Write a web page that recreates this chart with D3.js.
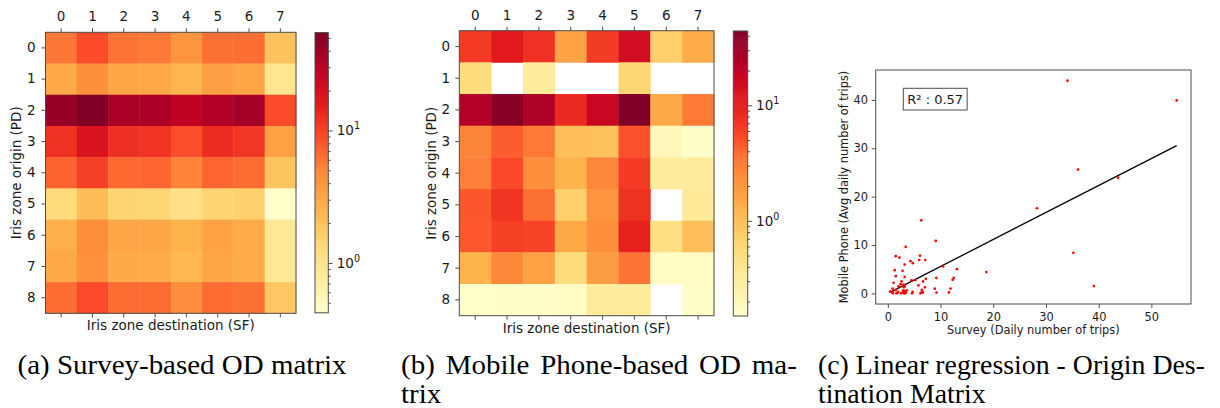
<!DOCTYPE html>
<html><head><meta charset="utf-8">
<script src="https://cdn.jsdelivr.net/npm/d3@7"></script>
<style>
body{margin:0;background:#fff}
svg{display:block}
</style>
</head><body>
<svg id="chart" width="1220" height="408"></svg>
<script>
// ---------------- data ----------------
const destZones = [0, 1, 2, 3, 4, 5, 6, 7];
const originZones = [0, 1, 2, 3, 4, 5, 6, 7, 8];

// Survey-based OD matrix (rows = origin PD, cols = destination SF)
const surveyOD = [
  [5.95, 9.1, 6.1, 5.8, 4.3, 6.33, 6.45, 2.0],
  [3.1, 4.6, 3.24, 3.1, 2.5, 3.6, 3.24, 0.98],
  [43.7, 54.8, 36.1, 35.2, 28.3, 34.1, 39.1, 9.2],
  [12.3, 18.7, 12.5, 11.9, 8.9, 13.1, 11.6, 3.44],
  [7.2, 10.5, 6.7, 7.05, 5.25, 7.1, 6.45, 1.97],
  [1.3, 2.2, 1.5, 1.49, 1.1, 1.5, 1.61, 0.42],
  [2.8, 4.75, 3.2, 3.2, 2.6, 3.4, 2.88, 0.9],
  [3.05, 4.5, 2.98, 2.88, 2.42, 3.2, 2.88, 0.9],
  [6.45, 9.25, 6.6, 6.6, 4.7, 6.6, 6.2, 1.88]
];

// Mobile Phone-based OD matrix (0 = no trips, drawn blank)
const phoneOD = [
  [6.9, 10.85, 7.8, 1.64, 6.66, 15.1, 0.75, 1.44],
  [0.54, 0, 0.32, 0, 0, 0.64, 0, 0],
  [23.9, 39.9, 25.6, 8.4, 17.6, 44.0, 1.5, 3.2],
  [2.8, 4.4, 3.2, 1.0, 0.96, 5.0, 0.2, 0.16],
  [3.0, 5.56, 2.46, 1.25, 2.74, 6.9, 0.32, 0.32],
  [4.8, 7.4, 3.56, 0.72, 2.2, 7.7, 0, 0.34],
  [4.67, 6.25, 5.97, 1.5, 2.47, 9.6, 0.5, 1.0],
  [1.27, 2.67, 1.8, 0.54, 1.9, 3.4, 0.17, 0.17],
  [0.15, 0.16, 0.16, 0.17, 0.32, 0.32, 0, 0.16]
];

const colorbarMajorTicks = [1, 10];
const scatterXTicks = [0, 10, 20, 30, 40, 50];
const scatterYTicks = [0, 10, 20, 30, 40];
const regressionFit = [0.558, -0.02];   // slope, intercept
const r2Text = "R\u00B2 : 0.57";
const ylOrRd = ["#ffffcc","#ffeda0","#fed976","#feb24c","#fd8d3c","#fc4e2a","#e31a1c","#bd0026","#800026"];

const axisTitles = {
  heatX: "Iris zone destination (SF)",
  heatY: "Iris zone origin (PD)",
  scatX: "Survey (Daily number of trips)",
  scatY: "Mobile Phone (Avg daily number of trips)"
};
const captionA = ["(a) Survey-based OD matrix"];
const captionB = ["(b) Mobile Phone-based OD ma-", "trix"];
const captionC = ["(c) Linear regression - Origin Des-", "tination Matrix"];

// ---------------- drawing ----------------
const svg = d3.select("#chart");
const SANS = "DejaVu Sans, sans-serif";
const INK = "#1a1a1a";
const FRAME = "#4d4d4d";

const ramp = d3.scaleLinear()
  .domain(d3.range(ylOrRd.length).map(i => i / (ylOrRd.length - 1)))
  .range(ylOrRd).interpolate(d3.interpolateRgb).clamp(true);

function styleAxis(g, fs) {
  g.attr("font-family", SANS).attr("font-size", fs).attr("color", FRAME);
  g.select(".domain").remove();
  g.selectAll("text").attr("fill", INK);
}

function drawHeatmap(cfg) {
  const {data, x0, x1, y0, y1, cb, topPad, leftPad, ylabX, xlabY} = cfg;
  const FS = 13.5;
  const x = d3.scaleBand().domain(destZones).range([x0, x1]);
  const y = d3.scaleBand().domain(originZones).range([y0, y1]);
  const positive = data.flat().filter(v => v > 0);
  const norm = d3.scaleLog().domain(d3.extent(positive)).range([0, 1]);
  const cells = data.flatMap((row, i) => row.map((v, j) => ({o: originZones[i], d: destZones[j], v})));
  const g = svg.append("g");
  g.selectAll("rect.cell").data(cells.filter(c => c.v > 0)).join("rect")
    .attr("class", "cell")
    .attr("x", c => x(c.d)).attr("y", c => y(c.o))
    .attr("width", x.bandwidth() + 0.4).attr("height", y.bandwidth() + 0.4)
    .attr("fill", c => ramp(norm(c.v)));
  g.append("rect").attr("x", x0).attr("y", y0).attr("width", x1 - x0).attr("height", y1 - y0)
    .attr("fill", "none").attr("stroke", FRAME).attr("stroke-width", 1);

  const top = g.append("g").attr("transform", `translate(0,${y0})`)
    .call(d3.axisTop(x).tickSize(4).tickPadding(topPad));
  styleAxis(top, FS);
  const bot = g.append("g").attr("transform", `translate(0,${y1})`)
    .call(d3.axisBottom(x).tickSize(4).tickFormat(""));
  styleAxis(bot, FS);
  const left = g.append("g").attr("transform", `translate(${x0},0)`)
    .call(d3.axisLeft(y).tickSize(4).tickPadding(leftPad));
  styleAxis(left, FS);

  g.append("text").attr("x", (x0 + x1) / 2).attr("y", xlabY).attr("text-anchor", "middle")
    .attr("font-family", SANS).attr("font-size", FS).attr("fill", INK).text(axisTitles.heatX);
  g.append("text").attr("transform", `translate(${ylabX},${(y0 + y1) / 2}) rotate(-90)`)
    .attr("text-anchor", "middle").attr("dy", "0.35em")
    .attr("font-family", SANS).attr("font-size", FS).attr("fill", INK).text(axisTitles.heatY);

  // colorbar
  const cs = d3.scaleLog().domain(norm.domain()).range([cb.y1, cb.y0]);
  const N = 280;
  const steps = d3.range(N);
  g.append("g").selectAll("rect").data(steps).join("rect")
    .attr("x", cb.x0).attr("width", cb.x1 - cb.x0)
    .attr("y", k => cb.y1 - (k + 1) * (cb.y1 - cb.y0) / N)
    .attr("height", (cb.y1 - cb.y0) / N + 0.6)
    .attr("fill", k => ramp((k + 0.5) / N));
  g.append("rect").attr("x", cb.x0).attr("y", cb.y0).attr("width", cb.x1 - cb.x0).attr("height", cb.y1 - cb.y0)
    .attr("fill", "none").attr("stroke", FRAME).attr("stroke-width", 1);
  const minor = cs.ticks().filter(t => !colorbarMajorTicks.includes(t));
  const ax = g.append("g").attr("transform", `translate(${cb.x1},0)`);
  ax.call(d3.axisRight(cs).tickValues(colorbarMajorTicks).tickSize(4.3).tickFormat(""));
  styleAxis(ax, FS);
  const axm = g.append("g").attr("transform", `translate(${cb.x1},0)`);
  axm.call(d3.axisRight(cs).tickValues(minor).tickSize(2.4).tickFormat(""));
  styleAxis(axm, FS);
  colorbarMajorTicks.forEach(v => {
    const t = g.append("text").attr("x", cb.x1 + 8.4).attr("y", cs(v)).attr("dy", "0.36em")
      .attr("font-family", SANS).attr("font-size", FS).attr("fill", INK);
    t.append("tspan").text("10");
    t.append("tspan").attr("font-size", 9.6).attr("dy", "-0.62em").text(String(Math.round(Math.log10(v))));
  });
}

drawHeatmap({data: surveyOD, x0: 45.5, x1: 296, y0: 32.3, y1: 313.3,
  cb: {x0: 315, x1: 328.3, y0: 32.6, y1: 312.8}, topPad: 7.4, leftPad: 6, ylabX: 16.7, xlabY: 329.5});
drawHeatmap({data: phoneOD, x0: 459.3, x1: 714, y0: 30.7, y1: 315.7,
  cb: {x0: 733.3, x1: 747.7, y0: 31, y1: 316}, topPad: 6.6, leftPad: 5.3, ylabX: 431.7, xlabY: 332.5});

// ---------------- scatter ----------------
(function () {
  const FS = 11.4;
  const fx0 = 875.7, fx1 = 1191, fy0 = 70, fy1 = 304;
  const pts = surveyOD.flatMap((row, i) => row.map((s, j) => ({s, p: phoneOD[i][j]})));
  const xe = d3.extent(pts, d => d.s), ye = d3.extent(pts, d => d.p);
  const mx = (xe[1] - xe[0]) * 0.05, my = (ye[1] - ye[0]) * 0.05;
  const xs = d3.scaleLinear().domain([xe[0] - mx, xe[1] + mx]).range([fx0, fx1]);
  const ys = d3.scaleLinear().domain([ye[0] - my, ye[1] + my]).range([fy1, fy0]);
  const g = svg.append("g");
  g.append("rect").attr("x", fx0).attr("y", fy0).attr("width", fx1 - fx0).attr("height", fy1 - fy0)
    .attr("fill", "#fff").attr("stroke", FRAME).attr("stroke-width", 1);

  const line = d3.line().x(d => xs(d)).y(d => ys(regressionFit[0] * d + regressionFit[1]));
  g.append("path").attr("d", line(xe)).attr("fill", "none").attr("stroke", "#000").attr("stroke-width", 1.3);

  g.selectAll("circle").data(pts).join("circle")
    .attr("cx", d => xs(d.s)).attr("cy", d => ys(d.p)).attr("r", 1.35).attr("fill", "#ff0000");

  const bx = g.append("g").attr("transform", `translate(0,${fy1})`)
    .call(d3.axisBottom(xs).tickValues(scatterXTicks).tickSize(4).tickPadding(4.7));
  styleAxis(bx, FS);
  const ly = g.append("g").attr("transform", `translate(${fx0},0)`)
    .call(d3.axisLeft(ys).tickValues(scatterYTicks).tickSize(4).tickPadding(3.7));
  styleAxis(ly, FS);

  g.append("text").attr("x", (fx0 + fx1) / 2).attr("y", 334).attr("text-anchor", "middle")
    .attr("font-family", SANS).attr("font-size", FS).attr("fill", INK).text(axisTitles.scatX);
  g.append("text").attr("transform", `translate(844,${(fy0 + fy1) / 2}) rotate(-90)`)
    .attr("text-anchor", "middle").attr("dy", "0.35em")
    .attr("font-family", SANS).attr("font-size", FS).attr("fill", INK).text(axisTitles.scatY);

  const bxr = g.append("rect").attr("fill", "#fff").attr("stroke", FRAME).attr("stroke-width", 1);
  const rt = g.append("text").attr("x", 907.3).attr("y", 99.2).attr("dy", "0.35em")
    .attr("font-family", SANS).attr("font-size", 13).attr("fill", INK).text(r2Text);
  const bb = rt.node().getBBox();
  bxr.attr("x", 903.3).attr("y", 88.3).attr("width", bb.width + 8).attr("height", 21.7);
})();

// ---------------- captions ----------------
(function () {
  const FS = 27;
  function mk(str) {
    return svg.append("text").attr("font-family", "Liberation Serif, Times New Roman, serif")
      .attr("font-size", FS).attr("fill", "#000").text(str);
  }
  const a = mk(captionA[0]);
  const natA = a.node().getComputedTextLength();
  const f = (346.7 - 17.5) / natA;
  function place(t, x, y, target, scale) {
    let s = scale || f;
    if (target) {
      const nat = t.node().getComputedTextLength();
      const n = (t.text().match(/ /g) || []).length;
      let ws = (target / s - nat) / n;
      if (ws < 0) { s = target / nat; ws = 0; }
      t.attr("word-spacing", ws);
    }
    t.attr("transform", `translate(${x},${y}) scale(${s},1)`);
    return s;
  }
  place(a, 17.5, 374);
  place(mk(captionB[0]), 401, 374, 797 - 401);
  place(mk(captionB[1]), 401, 403);
  const sc = place(mk(captionC[0]), 818, 374, 1205 - 818);
  place(mk(captionC[1]), 818, 403, null, sc);
})();
</script>
</body></html>
